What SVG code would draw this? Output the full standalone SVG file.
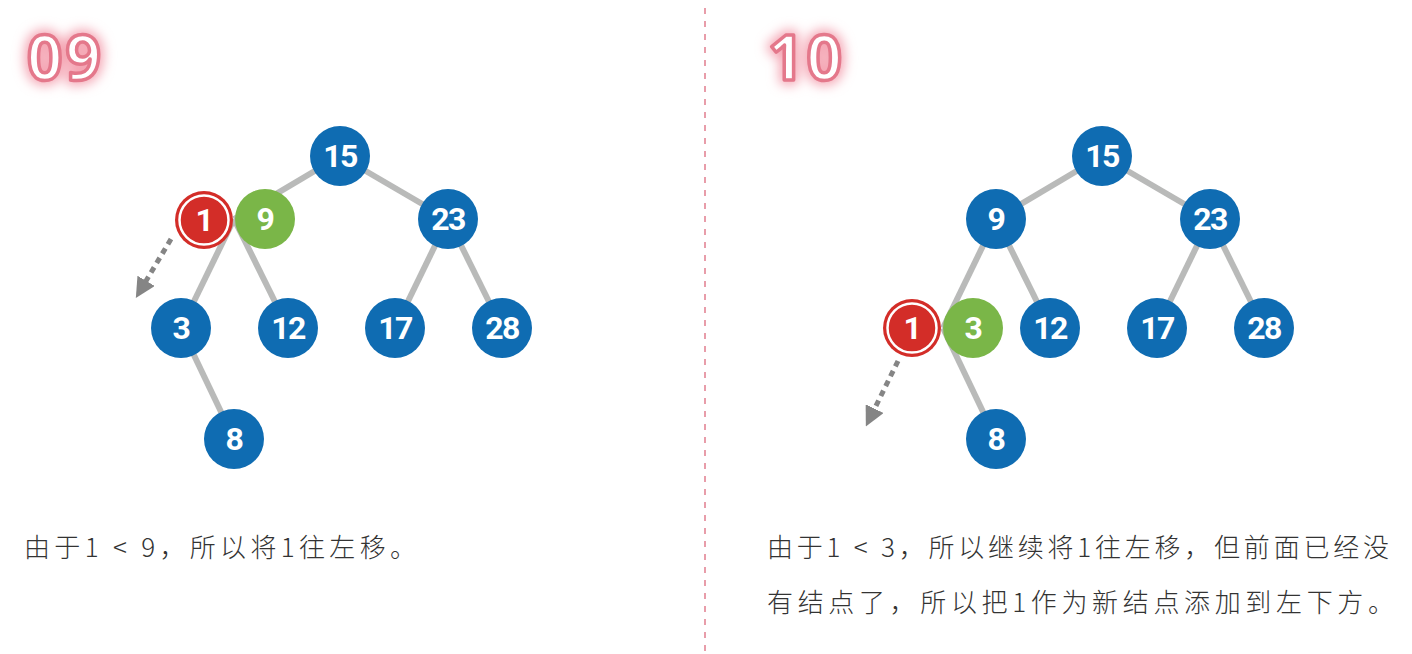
<svg xmlns="http://www.w3.org/2000/svg" width="1412" height="654" viewBox="0 0 1412 654">
  <defs>
    <style>
      .edge { stroke: #b9bab9; stroke-width: 6; fill: none; }
      .blue { fill: #0f6cb2; }
      .green { fill: #7ab648; }
      .red { fill: #d32d28; }
      .ring { fill: none; stroke: #ffffff; stroke-width: 2.5; }
      .num { font-family: Roboto, "Liberation Sans", sans-serif; font-weight: 700; font-size: 32px; fill: #ffffff; text-anchor: middle; letter-spacing: -1.5px; }
      .step { font-family: "Open Sans", sans-serif; font-weight: 700; font-size: 62px; fill: #ffffff; stroke: #e4788b; stroke-width: 3.5; stroke-linejoin: round; letter-spacing: 3px; }
      .glow { font-family: "Open Sans", sans-serif; font-weight: 700; font-size: 62px; fill: #f4a6b4; stroke: #f4a6b4; stroke-width: 10; stroke-linejoin: round; letter-spacing: 3px; }
      .cap { font-family: "Noto Sans CJK SC", "Noto Sans", sans-serif; font-weight: 300; font-size: 26px; fill: #333333; }
      .arrow { stroke: #858585; stroke-width: 5; stroke-dasharray: 6 5; fill: none; }
      .divider { stroke: #e38595; stroke-width: 1.6; stroke-dasharray: 6 7; }
    </style>
    <filter id="blur" x="-40%" y="-40%" width="180%" height="180%">
      <feGaussianBlur stdDeviation="6"/>
    </filter>
    <marker id="ah" viewBox="0 0 10 10" refX="3" refY="5" markerWidth="4" markerHeight="4" orient="auto" markerUnits="strokeWidth">
      <path d="M0,0 L10,5 L0,10 z" fill="#858585"/>
    </marker>
  </defs>
  <rect width="1412" height="654" fill="#ffffff"/>

  <line class="divider" x1="705" y1="8" x2="705" y2="652"/>

  <g id="title-09">
    <text class="glow" x="27" y="80" filter="url(#blur)">09</text>
    <text class="step" x="27" y="80">09</text>
  </g>
  <g id="title-10">
    <text class="glow" x="768" y="80" filter="url(#blur)">10</text>
    <text class="step" x="768" y="80">10</text>
  </g>

  <g id="connectors">
    <!-- left panel -->
    <line class="edge" x1="340" y1="156" x2="234" y2="219"/>
    <line class="edge" x1="340" y1="156" x2="448" y2="219"/>
    <line class="edge" x1="234" y1="219" x2="181" y2="328"/>
    <line class="edge" x1="234" y1="219" x2="288" y2="328"/>
    <line class="edge" x1="448" y1="219" x2="395" y2="328"/>
    <line class="edge" x1="448" y1="219" x2="502" y2="328"/>
    <line class="edge" x1="181" y1="328" x2="234" y2="439"/>
    <path class="arrow" d="M171,239 L143,286" marker-end="url(#ah)"/>
    <!-- right panel -->
    <line class="edge" x1="1102" y1="156" x2="996" y2="219"/>
    <line class="edge" x1="1102" y1="156" x2="1210" y2="219"/>
    <line class="edge" x1="996" y1="219" x2="943" y2="328"/>
    <line class="edge" x1="996" y1="219" x2="1050" y2="328"/>
    <line class="edge" x1="1210" y1="219" x2="1157" y2="328"/>
    <line class="edge" x1="1210" y1="219" x2="1264" y2="328"/>
    <line class="edge" x1="943" y1="328" x2="996" y2="439"/>
    <path class="arrow" d="M898,361 L872,414" marker-end="url(#ah)"/>
  </g>

  <!-- left panel nodes -->
  <g id="L15"><circle class="blue" cx="340" cy="156" r="30"/><text class="num" x="340" y="167">15</text></g>
  <g id="L23"><circle class="blue" cx="448" cy="219" r="30"/><text class="num" x="448" y="230">23</text></g>
  <g id="L9"><circle class="green" cx="265" cy="219" r="30"/><text class="num" x="265" y="230">9</text></g>
  <g id="L1"><circle class="red" cx="204" cy="220" r="29"/><circle class="ring" cx="204" cy="220" r="24.5"/><text class="num" x="204" y="231">1</text></g>
  <g id="L3"><circle class="blue" cx="181" cy="328" r="30"/><text class="num" x="181" y="339">3</text></g>
  <g id="L12"><circle class="blue" cx="288" cy="328" r="30"/><text class="num" x="288" y="339">12</text></g>
  <g id="L17"><circle class="blue" cx="395" cy="328" r="30"/><text class="num" x="395" y="339">17</text></g>
  <g id="L28"><circle class="blue" cx="502" cy="328" r="30"/><text class="num" x="502" y="339">28</text></g>
  <g id="L8"><circle class="blue" cx="234" cy="439" r="30"/><text class="num" x="234" y="450">8</text></g>

  <!-- right panel nodes -->
  <g id="R15"><circle class="blue" cx="1102" cy="156" r="30"/><text class="num" x="1102" y="167">15</text></g>
  <g id="R9"><circle class="blue" cx="996" cy="219" r="30"/><text class="num" x="996" y="230">9</text></g>
  <g id="R23"><circle class="blue" cx="1210" cy="219" r="30"/><text class="num" x="1210" y="230">23</text></g>
  <g id="R3"><circle class="green" cx="973" cy="328" r="30"/><text class="num" x="973" y="339">3</text></g>
  <g id="R1"><circle class="red" cx="912" cy="328" r="29"/><circle class="ring" cx="912" cy="328" r="24.5"/><text class="num" x="912" y="339">1</text></g>
  <g id="R12"><circle class="blue" cx="1050" cy="328" r="30"/><text class="num" x="1050" y="339">12</text></g>
  <g id="R17"><circle class="blue" cx="1157" cy="328" r="30"/><text class="num" x="1157" y="339">17</text></g>
  <g id="R28"><circle class="blue" cx="1264" cy="328" r="30"/><text class="num" x="1264" y="339">28</text></g>
  <g id="R8"><circle class="blue" cx="996" cy="439" r="30"/><text class="num" x="996" y="450">8</text></g>

  <g id="captions">
    <text class="cap" x="24" y="557" textLength="392" lengthAdjust="spacing">由于1 &lt; 9，所以将1往左移。</text>
    <text class="cap" x="767" y="557" textLength="622" lengthAdjust="spacing">由于1 &lt; 3，所以继续将1往左移，但前面已经没</text>
    <text class="cap" x="767" y="612" textLength="627" lengthAdjust="spacing">有结点了，所以把1作为新结点添加到左下方。</text>
  </g>
</svg>
